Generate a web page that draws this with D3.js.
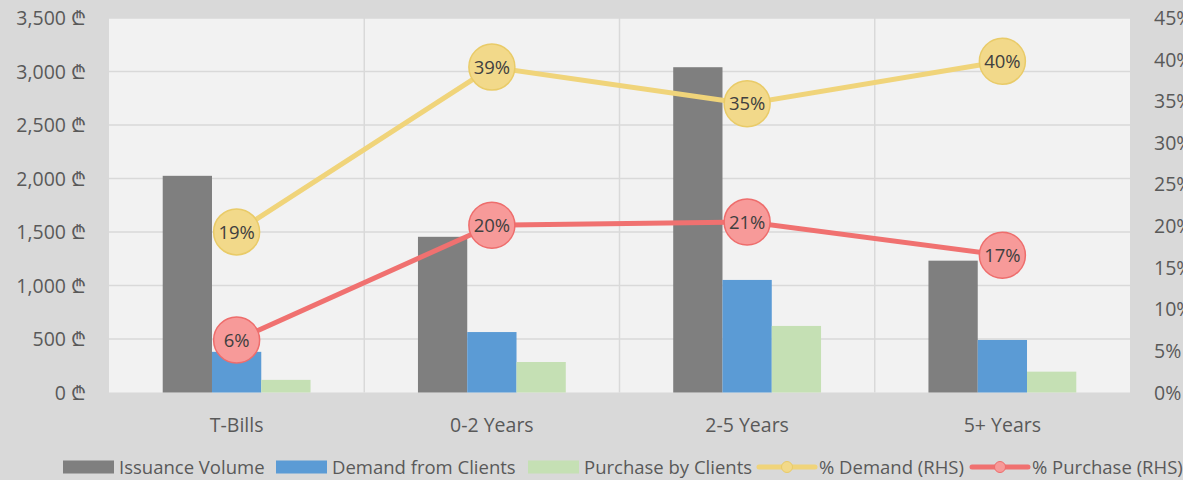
<!DOCTYPE html>
<html>
<head>
<meta charset="utf-8">
<script src="https://cdn.jsdelivr.net/npm/d3@7"></script>
<style>
  body { margin: 0; background: #d9d9d9; }
  svg { display: block; font-family: "Open Sans", Lato, sans-serif; }
</style>
</head>
<body>
<div id="chart"></div>
<script>
const categories = ['T-Bills', '0-2 Years', '2-5 Years', '5+ Years'];
const issuance = [2025, 1455, 3040, 1232];
const demand = [380, 565, 1052, 491];
const purchase = [118, 285, 622, 195];
const pctDemand = [19.3, 39.1, 34.7, 39.8];
const pctPurchase = [6.3, 20.1, 20.5, 16.5];
const pctDemandLabels = ['19%', '39%', '35%', '40%'];
const pctPurchaseLabels = ['6%', '20%', '21%', '17%'];
const leftTicks = [0, 500, 1000, 1500, 2000, 2500, 3000, 3500];
const rightTicks = [0, 5, 10, 15, 20, 25, 30, 35, 40, 45];

const width = 1183, height = 480;
const plot = { left: 109, right: 1130, top: 18, bottom: 392.5 };

const barSeries = [
  { name: 'Issuance Volume', values: issuance, color: '#7f7f7f' },
  { name: 'Demand from Clients', values: demand, color: '#5b9bd5' },
  { name: 'Purchase by Clients', values: purchase, color: '#c5e0b4' }
];
const lineSeries = [
  { name: '% Demand (RHS)', values: pctDemand, labels: pctDemandLabels, line: '#f0d47a', fill: '#f2d98a', stroke: '#e9cb68' },
  { name: '% Purchase (RHS)', values: pctPurchase, labels: pctPurchaseLabels, line: '#f07170', fill: '#f79a99', stroke: '#ee6d6c' }
];

const svg = d3.select('#chart').append('svg')
  .attr('width', width)
  .attr('height', height);

svg.append('rect').attr('width', width).attr('height', height).attr('fill', '#d9d9d9');
svg.append('rect')
  .attr('x', plot.left).attr('y', plot.top)
  .attr('width', plot.right - plot.left).attr('height', plot.bottom - plot.top)
  .attr('fill', '#f2f2f2');

const x = d3.scaleBand().domain(categories).range([plot.left, plot.right]);
const y = d3.scaleLinear().domain([0, 3500]).range([plot.bottom, plot.top]);
const y2 = d3.scaleLinear().domain([0, 45]).range([plot.bottom, plot.top]);

const barW = x.bandwidth() / 5.18;
const xs = d3.scaleBand().domain(barSeries.map(d => d.name))
  .range([0, barW * 3]);

// horizontal gridlines
svg.append('g').selectAll('line')
  .data(leftTicks.slice(1))
  .join('line')
  .attr('x1', plot.left).attr('x2', plot.right)
  .attr('y1', d => y(d)).attr('y2', d => y(d))
  .attr('stroke', '#d9d9d9').attr('stroke-width', 1.5);

// vertical gridlines between categories
svg.append('g').selectAll('line')
  .data(categories.slice(1))
  .join('line')
  .attr('x1', d => x(d)).attr('x2', d => x(d))
  .attr('y1', plot.top).attr('y2', plot.bottom)
  .attr('stroke', '#d9d9d9').attr('stroke-width', 1.5);

// bars
barSeries.forEach(s => {
  svg.append('g').selectAll('rect')
    .data(s.values)
    .join('rect')
    .attr('x', (d, i) => x(categories[i]) + x.bandwidth() / 2 - barW * 1.5 + xs(s.name))
    .attr('y', d => y(d))
    .attr('width', xs.bandwidth())
    .attr('height', d => y(0) - y(d))
    .attr('fill', s.color);
});

// lines and bubble labels
lineSeries.forEach(s => {
  const line = d3.line()
    .x((d, i) => x(categories[i]) + x.bandwidth() / 2)
    .y(d => y2(d));
  svg.append('path')
    .datum(s.values)
    .attr('d', line)
    .attr('fill', 'none')
    .attr('stroke', s.line)
    .attr('stroke-width', 5)
    .attr('stroke-linejoin', 'round');
});
lineSeries.forEach(s => {
  const g = svg.append('g').selectAll('g')
    .data(s.values)
    .join('g')
    .attr('transform', (d, i) => `translate(${x(categories[i]) + x.bandwidth() / 2},${y2(d)})`);
  g.append('circle')
    .attr('r', 23)
    .attr('fill', s.fill)
    .attr('stroke', s.stroke)
    .attr('stroke-width', 1.5);
  g.append('text')
    .attr('text-anchor', 'middle')
    .attr('dy', '0.36em')
    .attr('font-size', 18.5)
    .attr('fill', '#404040')
    .text((d, i) => s.labels[i]);
});

// left axis labels
svg.append('g').selectAll('text')
  .data(leftTicks)
  .join('text')
  .attr('x', 86)
  .attr('y', d => y(d))
  .attr('dy', '0.36em')
  .attr('text-anchor', 'end')
  .attr('font-size', 19.5)
  .attr('fill', '#595959')
  .text(d => d3.format(',')(d) + ' \u20BE');

// right axis labels (clipped by the window edge, as in the original)
svg.append('g').selectAll('text')
  .data(rightTicks)
  .join('text')
  .attr('x', 1154)
  .attr('y', d => y2(d))
  .attr('dy', '0.36em')
  .attr('font-size', 19.5)
  .attr('fill', '#595959')
  .text(d => d + '%');

// category labels
svg.append('g').selectAll('text')
  .data(categories)
  .join('text')
  .attr('x', d => x(d) + x.bandwidth() / 2)
  .attr('y', 425)
  .attr('dy', '0.36em')
  .attr('text-anchor', 'middle')
  .attr('font-size', 19.5)
  .attr('fill', '#595959')
  .text(d => d);

// legend
const legendY = 467;
const legendX = [63, 276, 528, 759, 972];
const legend = svg.append('g');
barSeries.forEach((s, i) => {
  legend.append('rect')
    .attr('x', legendX[i]).attr('y', legendY - 6.5)
    .attr('width', 51).attr('height', 13)
    .attr('fill', s.color);
  legend.append('text')
    .attr('x', legendX[i] + 56).attr('y', legendY)
    .attr('dy', '0.36em')
    .attr('font-size', 18.5)
    .attr('fill', '#595959')
    .text(s.name);
});
lineSeries.forEach((s, j) => {
  const lx = legendX[3 + j];
  legend.append('line')
    .attr('x1', lx).attr('x2', lx + 56)
    .attr('y1', legendY).attr('y2', legendY)
    .attr('stroke', s.line).attr('stroke-width', 5).attr('stroke-linecap', 'round');
  legend.append('circle')
    .attr('cx', lx + 28).attr('cy', legendY).attr('r', 5.5)
    .attr('fill', s.fill).attr('stroke', s.stroke).attr('stroke-width', 1);
  legend.append('text')
    .attr('x', lx + 60).attr('y', legendY)
    .attr('dy', '0.36em')
    .attr('font-size', 18.5)
    .attr('fill', '#595959')
    .text(s.name);
});
</script>
</body>
</html>
